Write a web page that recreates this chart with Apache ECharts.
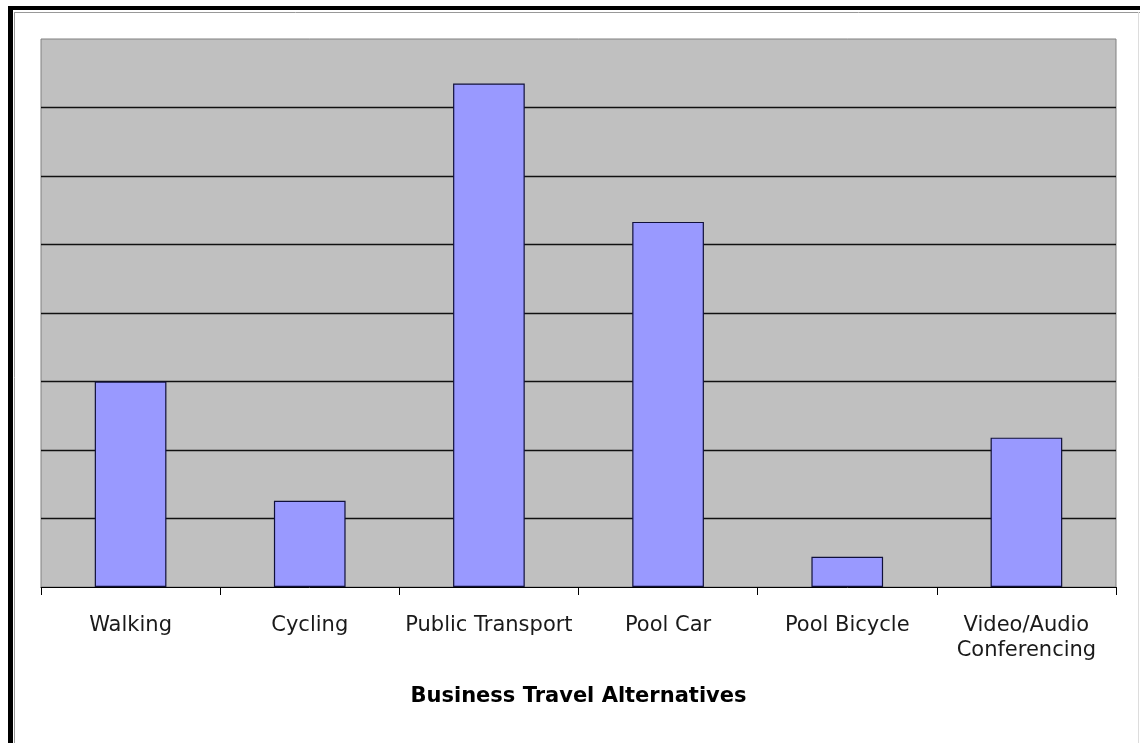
<!DOCTYPE html>
<html>
<head>
<meta charset="utf-8">
<script src="https://cdn.jsdelivr.net/npm/echarts@6/dist/echarts.min.js"></script>
<style>
html,body{margin:0;padding:0;background:#fff;}
#chart{width:1140px;height:743px;}
</style>
</head>
<body>
<div id="chart"></div>
<script>
const categories = ['Walking', 'Cycling', 'Public Transport', 'Pool Car', 'Pool Bicycle', 'Video/Audio\nConferencing'];
const values = [3.0, 1.26, 7.35, 5.33, 0.44, 2.18];
const axisTitle = 'Business Travel Alternatives';
const yMin = 0, yMax = 8, yInterval = 1;

const chart = echarts.init(document.getElementById('chart'), null, {renderer: 'canvas'});
chart.setOption({
  backgroundColor: '#ffffff',
  animation: false,
  graphic: [
    {type: 'rect', shape: {x: 8, y: 6, width: 5, height: 737}, style: {fill: '#000'}, silent: true},
    {type: 'rect', shape: {x: 8, y: 6, width: 1132, height: 4}, style: {fill: '#000'}, silent: true},
    {type: 'line', shape: {x1: 14.5, y1: 12, x2: 14.5, y2: 743}, style: {stroke: '#999', lineWidth: 1}, silent: true},
    {type: 'line', shape: {x1: 14, y1: 12.5, x2: 1140, y2: 12.5}, style: {stroke: '#999', lineWidth: 1}, silent: true},
    {type: 'line', shape: {x1: 1138.5, y1: 12, x2: 1138.5, y2: 743}, style: {stroke: '#ddd', lineWidth: 1}, silent: true}
  ],
  grid: {
    left: 41, top: 39, right: 24, bottom: 156,
    show: true, backgroundColor: '#C0C0C0', borderColor: '#808080', borderWidth: 1
  },
  xAxis: {
    type: 'category',
    data: categories,
    axisLine: {show: true, lineStyle: {color: '#000', width: 1}},
    axisTick: {show: true, length: 8, lineStyle: {color: '#000'}},
    axisLabel: {
      interval: 0, margin: 26, color: '#1a1a1a',
      fontFamily: 'DejaVu Sans', fontSize: 21, lineHeight: 25
    },
    name: axisTitle,
    nameLocation: 'middle',
    nameGap: 99,
    nameTextStyle: {fontFamily: 'DejaVu Sans', fontWeight: 'bold', fontSize: 21, color: '#000'}
  },
  yAxis: {
    type: 'value',
    min: yMin, max: yMax, interval: yInterval,
    axisLine: {show: false},
    axisTick: {show: false},
    axisLabel: {show: false},
    splitLine: {show: true, showMaxLine: false, showMinLine: false, lineStyle: {color: '#111', width: 1.3}}
  },
  series: [{
    type: 'bar',
    data: values,
    barWidth: '40%',
    itemStyle: {color: '#9999FF', borderColor: '#10103a', borderWidth: 1.2}
  }]
});
</script>
</body>
</html>
